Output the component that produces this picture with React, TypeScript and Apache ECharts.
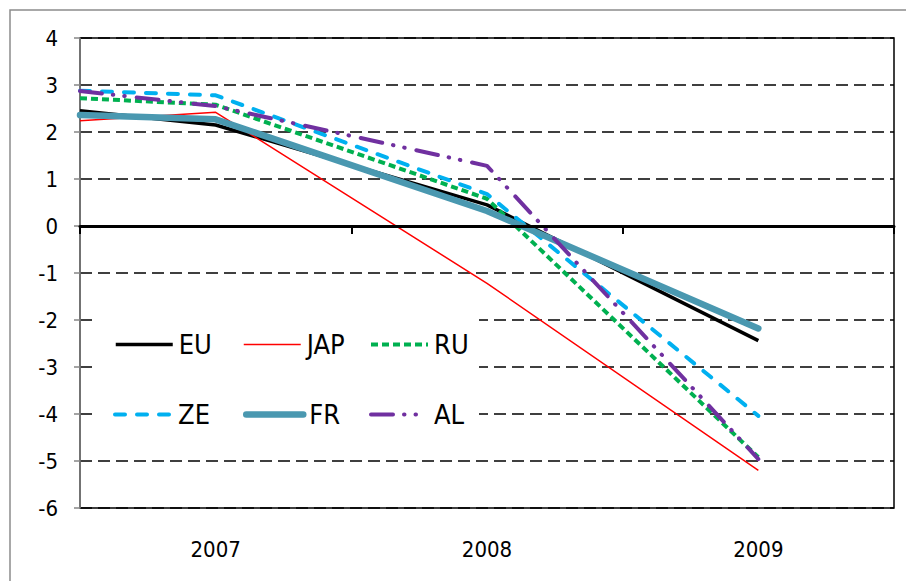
import React, { useEffect, useRef } from "react";
import * as echarts from "echarts";

// ---- data ----
const YEARS = ["2007", "2008", "2009"];
const X_POS = [2006.5, 2007, 2008, 2009];
const NAMES = ["EU", "JAP", "RU", "ZE", "FR", "AL"];
const EU = [2.45, 2.15, 0.45, -2.44];
const JAP = [2.24, 2.42, -1.22, -5.2];
const RU = [2.72, 2.58, 0.58, -4.92];
const ZE = [2.88, 2.78, 0.68, -4.04];
const FR = [2.36, 2.27, 0.32, -2.18];
const AL = [2.87, 2.55, 1.28, -4.96];
const SERIES_VALUES = [EU, JAP, RU, ZE, FR, AL];

// ---- styles / layout ----
const FONT = "'Liberation Sans Narrow', 'Arial Narrow', 'DejaVu Sans Condensed', sans-serif";
const LINE_STYLES: any[] = [
  { color: "#000000", width: 3.5, type: "solid", cap: "butt" },
  { color: "#FF0000", width: 1.5, type: "solid", cap: "butt" },
  { color: "#00B050", width: 4, type: [7, 4], cap: "butt" },
  { color: "#00B0F0", width: 4, type: [10, 12], cap: "round" },
  { color: "#4A98B0", width: 6.5, type: "solid", cap: "round" },
  { color: "#7030A0", width: 4, type: [22, 11, 0.5, 11, 0.5, 12], cap: "round" },
];
const LEGEND_POS = [
  { left: 114, top: 331 },
  { left: 243, top: 331 },
  { left: 369, top: 331 },
  { left: 113, top: 401 },
  { left: 243, top: 401 },
  { left: 369, top: 401 },
];

export default function App() {
  const ref = useRef<HTMLDivElement>(null);
  useEffect(() => {
    document.body.style.margin = "0";
    const chart = echarts.init(ref.current!, null, { renderer: "svg" });
    const option: any = {
      animation: false,
      backgroundColor: "#ffffff",
      grid: {
        left: 80,
        right: 12,
        top: 38,
        bottom: 73,
        show: true,
        borderColor: "#000000",
        borderWidth: 1.5,
      },
      xAxis: [
        {
          type: "category",
          data: YEARS,
          boundaryGap: true,
          position: "bottom",
          axisLine: { onZero: true, lineStyle: { color: "#000000", width: 3 } },
          axisTick: { show: true, length: 8, lineStyle: { color: "#000000", width: 2 } },
          axisLabel: { show: false },
          splitLine: { show: false },
          z: 3,
        },
        {
          type: "category",
          data: YEARS,
          boundaryGap: true,
          position: "bottom",
          axisLine: { show: false, onZero: false },
          axisTick: { show: false },
          axisLabel: { margin: 30, fontSize: 22, fontFamily: FONT, color: "#000000" },
          splitLine: { show: false },
        },
        {
          type: "value",
          min: 2006.5,
          max: 2009.5,
          show: false,
          splitLine: { show: false },
        },
      ],
      yAxis: {
        type: "value",
        min: -6,
        max: 4,
        interval: 1,
        axisLine: { show: true, lineStyle: { color: "#868686", width: 1.5 } },
        axisTick: { show: true, length: 6, lineStyle: { color: "#868686", width: 1.5 } },
        axisLabel: { margin: 22, fontSize: 22, fontFamily: FONT, color: "#000000" },
        splitLine: {
          show: true,
          lineStyle: { color: "#000000", width: 1.5, type: [12, 6] },
        },
      },
      legend: NAMES.map((name, i) => ({
        data: [name],
        left: LEGEND_POS[i].left,
        top: LEGEND_POS[i].top,
        orient: "horizontal",
        itemWidth: 57,
        itemHeight: 22,
        itemGap: 0,
        padding: 0,
        selectedMode: false,
        itemStyle: { opacity: 0, borderWidth: 0 },
        lineStyle: {
          color: LINE_STYLES[i].color,
          width: LINE_STYLES[i].width,
          type: LINE_STYLES[i].type,
          cap: LINE_STYLES[i].cap,
          opacity: 1,
        },
        textStyle: { fontSize: 27, fontFamily: FONT, color: "#000000", padding: [0, 0, 0, 1] },
      })),
      graphic: [
        {
          type: "rect",
          z: 0,
          shape: { x: 10, y: 10, width: 910, height: 590 },
          style: { fill: "none", stroke: "#8c8c8c", lineWidth: 1.5 },
          silent: true,
        },
        {
          type: "rect",
          z: 1,
          shape: { x: 94, y: 290, width: 385, height: 155 },
          style: { fill: "#ffffff" },
          silent: true,
        },
      ],
      series: NAMES.map((name, i) => ({
        name,
        type: "line",
        xAxisIndex: 2,
        yAxisIndex: 0,
        symbol: "none",
        z: 2 + i * 0.1,
        lineStyle: LINE_STYLES[i],
        itemStyle: { color: LINE_STYLES[i].color },
        data: X_POS.map((x, j) => [x, SERIES_VALUES[i][j]]),
      })),
    };
    chart.setOption(option);
    return () => chart.dispose();
  }, []);
  return <div ref={ref} style={{ width: 906, height: 581 }} />;
}
